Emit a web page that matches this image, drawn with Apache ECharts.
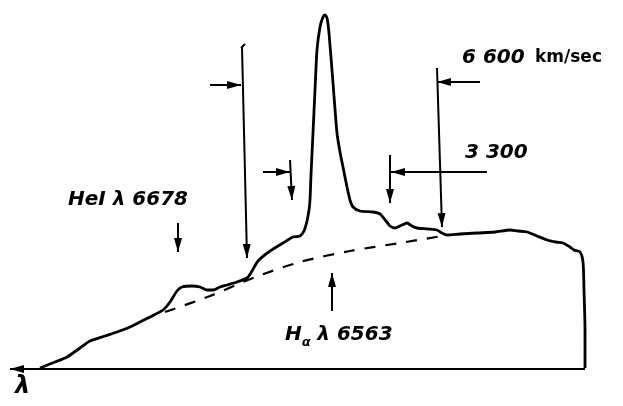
<!DOCTYPE html>
<html><head><meta charset="utf-8">
<script src="https://cdn.jsdelivr.net/npm/echarts@6/dist/echarts.min.js"></script>
<style>html,body{margin:0;padding:0;background:#fff}#c{width:623px;height:406px}</style>
</head><body><div id="c"></div>
<script>
// Spectrum trace (x position along dispersion, flux above baseline)
const specX = [40,55,67,80,90,105,117,130,140,152,163,170,177,182,192,200,207,213,220,227,237,247,252,258,270,283,293,300,304,307,309,310,311,313,315,317,320,323,325,327,329,333,337,340,343,347,350,353,360,373,380,386,390,395,402,407,412,417,428,437,442,447,460,477,495,510,518,527,537,547,556,563,570,574,580,583,584,585,585];
const specFlux = [1,7,12,21,28,33,37,42,47,53,59,67,78,82,83,82,79,79,82,84,87,91,98,108,118,126,132,133,138,148,159,169,194,236,279,319,342,352,354,351,336,286,236,217,202,182,169,162,158,157,155,148,143,141,144,146,143,141,140,139,136,134,135,136,137,139,138,137,133,129,127,126,122,119,117,107,79,39,1];
// Dashed continuum under H-alpha
const contX = [165,210,253,300,350,400,442];
const contFlux = [57,73,91,107,118,126,133];
// Arrows: x1, f1, x2, f2 (head at the second point; 0 = no head)
const arrowX1 = [585,242,210,263,290,390,487,437,480,178,332,241];
const arrowF1 = [0,322,284,197,209,214,197,301,287,146,58,321];
const arrowX2 = [10,247,241,290,292,390,391,442,437,178,332,245];
const arrowF2 = [0,111,284,197,169,166,197,142,287,117,96,325];
const arrowHead = [1,1,1,1,1,1,1,1,1,1,1,0];
// Text labels
const labelText = ['HeI λ 6678','6 600','km/sec','3 300','λ'];
const labelX = [68,462,535,465,15];
const labelF = [169,311,311,216,-18];

const chart = echarts.init(document.getElementById('c'));
const spec = specX.map((x,i)=>[x,specFlux[i]]);
const cont = contX.map((x,i)=>[x,contFlux[i]]);
const segs = arrowX1.map((x,i)=>({coords:[[x,arrowF1[i]],[arrowX2[i],arrowF2[i]]]}));
const heads = [];
arrowX1.forEach((x,i)=>{
  if(!arrowHead[i]) return;
  const dx = arrowX2[i]-x, dy = arrowF2[i]-arrowF1[i];
  const L = Math.hypot(dx,dy), ux = dx/L, uy = dy/L;
  const len = 14;
  const ang = Math.atan2(uy,ux)*180/Math.PI - 90;
  heads.push({value:[arrowX2[i]-ux*len/2, arrowF2[i]-uy*len/2], symbolRotate: ang});
});
const digitFont = {fontFamily:'DejaVu Sans', fontStyle:'italic', fontWeight:'bold', fontSize:20, color:'#000', opacity:1};
const labels = labelText.map((t,i)=>{
  let st = Object.assign({}, digitFont);
  if(t==='km/sec') st = {fontFamily:'DejaVu Sans', fontWeight:'bold', fontSize:17, color:'#000', opacity:1};
  if(t==='λ') st = {fontFamily:'DejaVu Sans', fontStyle:'italic', fontWeight:'bold', fontSize:24, color:'#000', opacity:1};
  return {value:[labelX[i],labelF[i]], label:Object.assign({show:true, formatter:t, position:'right', distance:0, align:'left', verticalAlign:'middle'}, st)};
});
labels.push({value:[285,34], label:{show:true, position:'right', distance:0, align:'left', verticalAlign:'middle', opacity:1,
  formatter:'{h|H}{a|α}  {n|λ 6563}',
  rich:{h:Object.assign({}, digitFont, {verticalAlign:'middle'}), a:{fontFamily:'DejaVu Sans', fontWeight:'bold', fontStyle:'italic', fontSize:13, color:'#000', padding:[16,0,0,0]}, n:Object.assign({}, digitFont)}}});

chart.setOption({
  animation:false,
  grid:{left:0,right:0,top:0,bottom:0},
  xAxis:{type:'value',min:0,max:623,show:false},
  yAxis:{type:'value',min:-37,max:369,show:false},
  series:[
    {type:'line', data:spec, smooth:0.25, symbol:'none', lineStyle:{color:'#000', width:2.8}},
    {type:'line', data:cont, smooth:0.3, symbol:'none', lineStyle:{color:'#000', width:2.2, type:[11,10]}},
    {type:'lines', coordinateSystem:'cartesian2d', data:segs, lineStyle:{color:'#000', width:2, opacity:1}, symbol:'none'},
    {type:'scatter', data:heads, symbol:'triangle', symbolSize:[8,14], itemStyle:{color:'#000', opacity:1}},
    {type:'scatter', data:labels, symbolSize:0, itemStyle:{color:'#000', opacity:1}}
  ]
});
</script></body></html>
